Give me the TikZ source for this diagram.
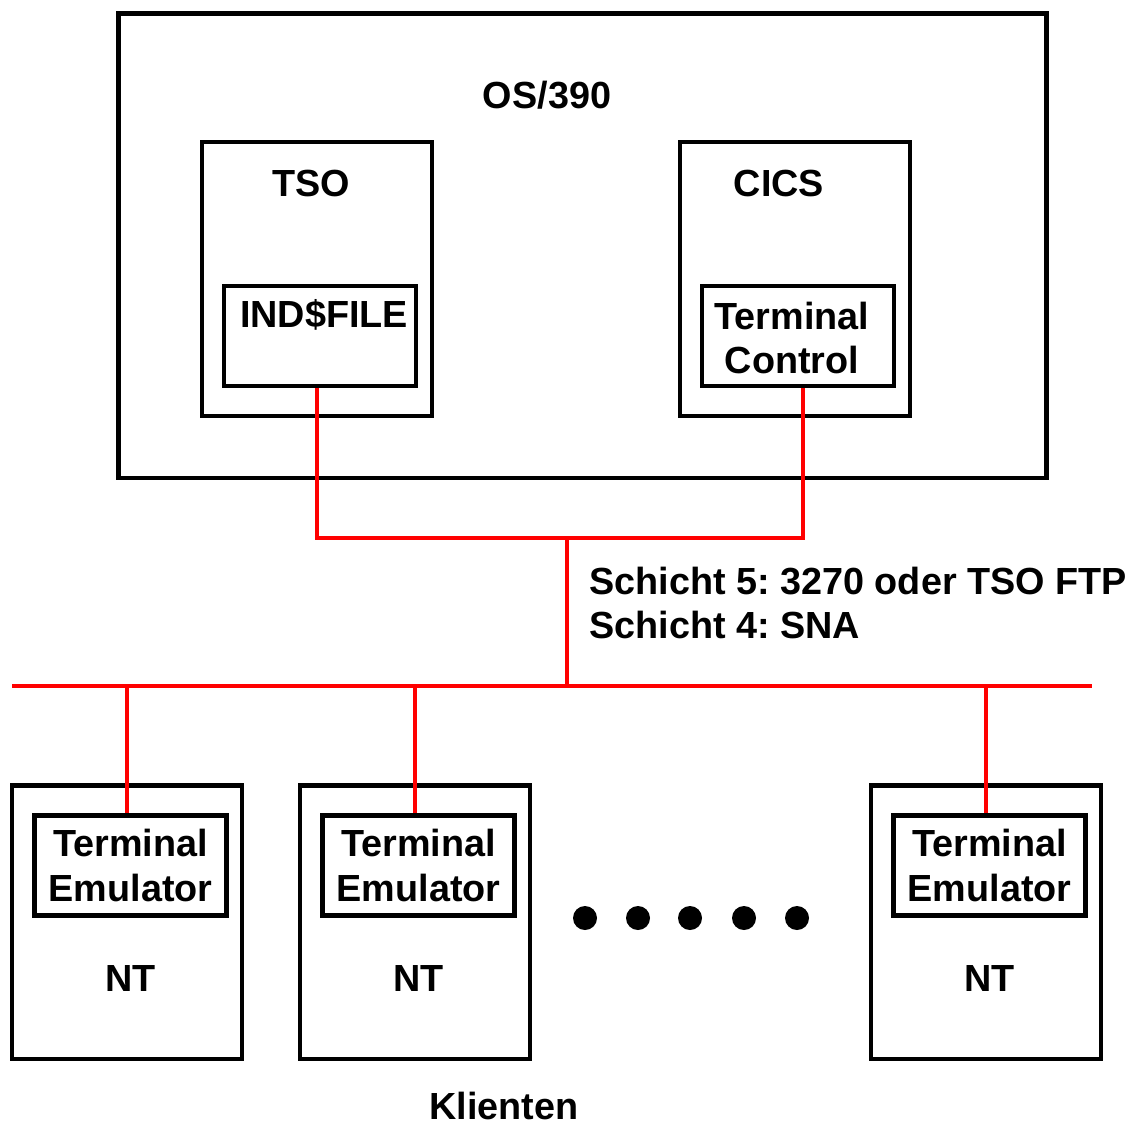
\documentclass[tikz,border=0pt]{standalone}
\usepackage{fontspec}
\setmainfont{Liberation Sans}
\frenchspacing
\usetikzlibrary{positioning, calc}
\definecolor{netred}{HTML}{FF0000}
\tikzset{
  every picture/.style={line cap=butt, line join=miter},
  box/.style={draw, line width=2.8pt, inner sep=0pt, minimum width=4.6cm, minimum height=5.48cm},
  inbox/.style={draw, line width=2.8pt, inner sep=0pt, minimum width=3.84cm, minimum height=2cm,
    align=center, font=\fontsize{21.5}{25.5}\selectfont\bfseries},
  lbl/.style={inner sep=0pt, font=\fontsize{21.5}{25.5}\selectfont\bfseries},
  netline/.style={netred, line width=2.3pt},
}

\begin{document}
\begin{tikzpicture}[x=0.02cm, y=-0.02cm]
  \useasboundingbox (0,0) rectangle (1128,1127);
  % host
  \node[box, minimum width=18.58cm, minimum height=9.3cm] (host) at (582.5,245.5) {};
  \node[lbl] (os) at (547,95) {OS/390};
  \node[box] (tso) at (317,279) {};
  \node[lbl] (tsol) at (311,183) {TSO};
  \node[inbox] (ind) at (320,336) {};
  \node[lbl] (indl) at (324,315) {IND\$FILE};
  \node[box] (cics) at (795,279) {};
  \node[lbl] (cicsl) at (779,183) {CICS};
  \node[inbox] (tc) at (798,336) {};
  \node[lbl, align=center] (tcl) at (792,338) {Terminal\\Control};
  % network
  \coordinate (join) at (567,538);
  \coordinate (tap) at (567,686);
  \coordinate (busL) at (12,686);
  \coordinate (busR) at (1092,686);
  \draw[netline] ($(ind.south)+(-3,0)$) |- (join) -| ($(tc.south)+(5,0)$);
  \draw[netline] (join) -- (tap);
  \draw[netline] (busL) -- (busR);
  \node[lbl, anchor=west, align=left] (layers) at (589,603) {Schicht 5: 3270 oder TSO FTP\\Schicht 4: SNA};
  % clients
  \foreach \i/\x in {1/127, 2/415, 3/986} {
    \node[box] (nt\i) at (\x,922) {};
    \node[inbox] (te\i) at (\x+3.5,865.5) {Terminal\\Emulator};
    \node[lbl] (ntl\i) at (\x+3.5,978) {NT};
    \coordinate (drop\i) at (\x,686);
    \draw[netline] (drop\i) -- (drop\i |- te\i.north);
  }
  \foreach \x in {585, 638, 690, 744, 797}
    \fill (\x,918) circle (0.24cm);
  \node[lbl, anchor=base] (kl) at (504,1119) {Klienten};
\end{tikzpicture}
\end{document}
